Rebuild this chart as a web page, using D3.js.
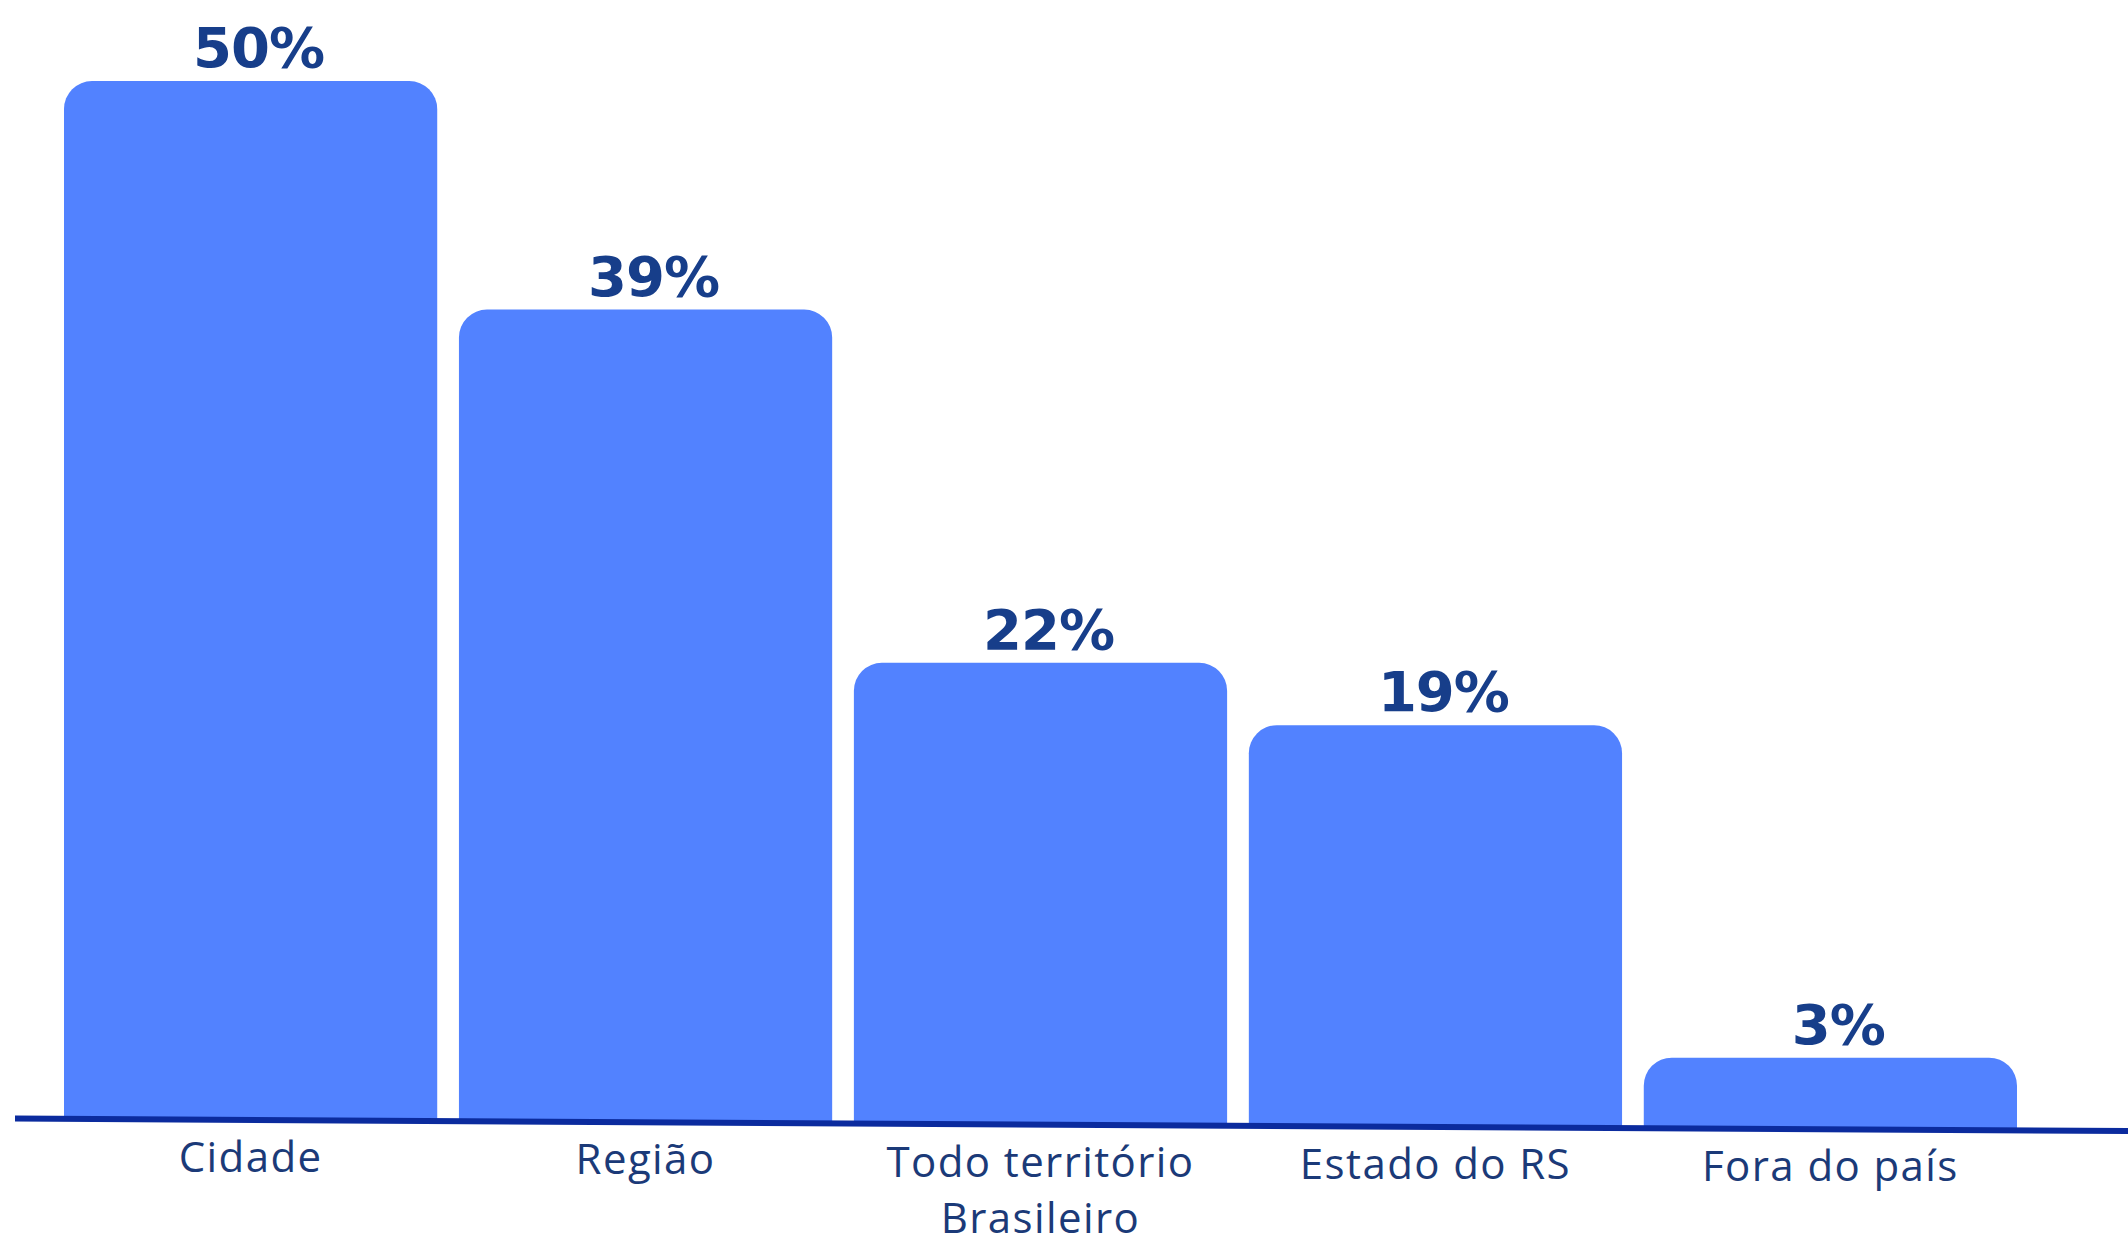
<!DOCTYPE html>
<html>
<head>
<meta charset="utf-8">
<script src="https://cdn.jsdelivr.net/npm/d3@7"></script>
<style>
  html, body { margin: 0; padding: 0; background: #ffffff; }
  svg { display: block; }
</style>
</head>
<body>
<svg id="chart" width="2128" height="1244"></svg>
<script>
// Share of respondents by area of reach
const categories = ["Cidade", "Região", "Todo território Brasileiro", "Estado do RS", "Fora do país"];
const values = [50, 39, 22, 19, 3];
const valueLabels = ["50%", "39%", "22%", "19%", "3%"];
const tickLabelLines = [["Cidade"], ["Região"], ["Todo território", "Brasileiro"], ["Estado do RS"], ["Fora do país"]];

const W = 2128, H = 1244;
const svg = d3.select("#chart");

// baseline runs with a slight downward slope to the right
const lineX0 = 15, lineY0 = 1118.5, lineX1 = W, lineY1 = 1131;
const baseAt = px => lineY0 + (px - lineX0) * (lineY1 - lineY0) / (lineX1 - lineX0);

const x = d3.scaleBand()
  .domain(categories)
  .range([64, 2017])
  .paddingInner(0.055)
  .paddingOuter(0);

const y = d3.scaleLinear()
  .domain([0, 50])
  .range([1120, 81]);

const r = 28;
function topRoundedBar(x0, y0, w, yBottom) {
  const h = yBottom - y0;
  const rr = Math.min(r, h / 2, w / 2);
  return `M${x0},${yBottom}` +
    `V${y0 + rr}` +
    `A${rr},${rr} 0 0 1 ${x0 + rr},${y0}` +
    `H${x0 + w - rr}` +
    `A${rr},${rr} 0 0 1 ${x0 + w},${y0 + rr}` +
    `V${yBottom}Z`;
}

const data = categories.map((c, i) => ({ c, v: values[i], label: valueLabels[i], lines: tickLabelLines[i] }));

svg.selectAll("path.bar")
  .data(data)
  .join("path")
  .attr("class", "bar")
  .attr("fill", "#5282FF")
  .attr("d", d => topRoundedBar(x(d.c), y(d.v), x.bandwidth(), baseAt(x(d.c) + x.bandwidth())));

// baseline
svg.append("line")
  .attr("x1", lineX0).attr("x2", lineX1)
  .attr("y1", lineY0).attr("y2", lineY1)
  .attr("stroke", "#0b2b9e")
  .attr("stroke-width", 6);

// value labels above bars
svg.selectAll("text.val")
  .data(data)
  .join("text")
  .attr("class", "val")
  .attr("x", d => x(d.c) + x.bandwidth() / 2 + 8)
  .attr("y", d => y(d.v) - 14)
  .attr("text-anchor", "middle")
  .attr("font-family", "'DejaVu Sans', sans-serif")
  .attr("font-weight", "bold")
  .attr("font-size", 56)
  .attr("letter-spacing", -1)
  .attr("fill", "#173e8a")
  .text(d => d.label);

// category labels via axis
const axis = d3.axisBottom(x).tickSize(0).tickPadding(0);
const axisG = svg.append("g").call(axis);
axisG.select(".domain").remove();
axisG.selectAll(".tick text").remove();
axisG.selectAll(".tick").each(function(c, i) {
  const cx = x(c) + x.bandwidth() / 2;
  const t = d3.select(this).append("text")
    .attr("text-anchor", "middle")
    .attr("font-family", "'Open Sans', sans-serif")
    .attr("font-weight", 400)
    .attr("font-size", 42)
    .attr("letter-spacing", 1.4)
    .attr("fill", "#1b3a78");
  tickLabelLines[i].forEach((line, j) => {
    t.append("tspan")
      .attr("x", 0)
      .attr("y", baseAt(cx) + 52 + j * 56)
      .text(line);
  });
});
</script>
</body>
</html>
